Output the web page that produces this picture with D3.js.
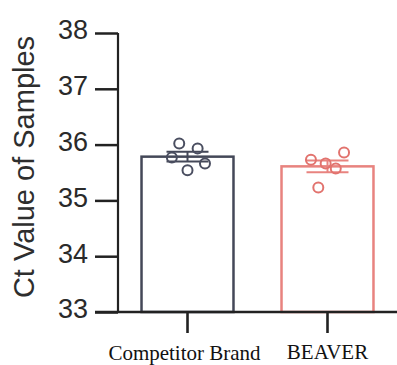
<!DOCTYPE html>
<html>
<head>
<meta charset="utf-8">
<script src="https://cdn.jsdelivr.net/npm/d3@7"></script>
<style>
  html, body { margin: 0; padding: 0; background: #fff; }
  svg { display: block; }
</style>
</head>
<body>
<svg id="chart" width="397" height="365"></svg>
<script>
// Groups and their individual Ct measurements
const categories = ["Competitor Brand", "BEAVER"];
const competitorValues = [36.02, 35.93, 35.77, 35.66, 35.54];
const beaverValues = [35.73, 35.86, 35.57, 35.66, 35.23];
const yTicks = [33, 34, 35, 36, 37, 38];
const yLabel = "Ct Value of Samples";

// Per-sample horizontal offsets (jitter) within each bar, in bar-width fractions
const competitorJitter = [-0.09, 0.11, -0.17, 0.19, 0.0];
const beaverJitter = [-0.18, 0.18, 0.09, -0.02, -0.1];

const strokeColors = ["#444858", "#e8837f"];
const pointColors = ["#4a4e60", "#e2736e"];

const groups = categories.map((c, i) => {
  const vals = i === 0 ? competitorValues : beaverValues;
  const mean = d3.mean(vals);
  const sem = d3.deviation(vals) / Math.sqrt(vals.length);
  return { name: c, values: vals, jitter: i === 0 ? competitorJitter : beaverJitter, mean, sem, i };
});

const svg = d3.select("#chart");
const axisX = 118, baseY = 312, topY = 33, rightX = 397;

const y = d3.scaleLinear().domain([33, 38]).range([baseY, topY]);
const x = d3.scaleBand().domain(categories).range([axisX, rightX])
  .paddingInner(0.343).paddingOuter(0.168);

// Bars (open, outlined)
svg.selectAll("rect.bar").data(groups).enter().append("rect")
  .attr("class", "bar")
  .attr("x", d => x(d.name))
  .attr("width", x.bandwidth())
  .attr("y", d => y(d.mean))
  .attr("height", d => baseY - y(d.mean))
  .attr("fill", "#fff")
  .attr("stroke", d => strokeColors[d.i])
  .attr("stroke-width", 2.5);

// Mean ± SEM error bars
const capHalf = 21;
groups.forEach(d => {
  const cx = x(d.name) + x.bandwidth() / 2;
  const g = svg.append("g").attr("stroke", strokeColors[d.i]).attr("stroke-width", 2);
  g.append("line").attr("x1", cx).attr("x2", cx)
    .attr("y1", y(d.mean + d.sem)).attr("y2", y(d.mean - d.sem));
  [d.mean + d.sem, d.mean - d.sem].forEach(v => {
    g.append("line").attr("x1", cx - capHalf).attr("x2", cx + capHalf)
      .attr("y1", y(v)).attr("y2", y(v));
  });
});

// Individual sample points
groups.forEach(d => {
  const cx = x(d.name) + x.bandwidth() / 2;
  svg.selectAll(null).data(d.values).enter().append("circle")
    .attr("cx", (v, k) => cx + d.jitter[k] * x.bandwidth())
    .attr("cy", v => y(v))
    .attr("r", 5)
    .attr("fill", "none")
    .attr("stroke", pointColors[d.i])
    .attr("stroke-width", 2);
});

// Y axis
const yAxis = d3.axisLeft(y).tickValues(yTicks).tickSize(23).tickPadding(7)
  .tickFormat(d3.format("d"));
const gy = svg.append("g").attr("transform", `translate(${axisX},0)`).call(yAxis);
gy.select(".domain").attr("stroke", "#222").attr("stroke-width", 2.2)
  .attr("d", `M0,${topY}V${baseY}`);
gy.selectAll(".tick line").attr("stroke", "#222").attr("stroke-width", 2.5);
gy.selectAll(".tick text")
  .attr("font-family", "Liberation Sans, Arial, sans-serif")
  .attr("font-size", 27)
  .attr("fill", "#2a2a2a")
  .attr("dy", "0.22em");

// X axis baseline and ticks
svg.append("line").attr("x1", 95).attr("x2", rightX)
  .attr("y1", baseY).attr("y2", baseY)
  .attr("stroke", "#222").attr("stroke-width", 2.6);
svg.selectAll("line.xtick").data(categories).enter().append("line")
  .attr("class", "xtick")
  .attr("x1", d => x(d) + x.bandwidth() / 2)
  .attr("x2", d => x(d) + x.bandwidth() / 2)
  .attr("y1", baseY).attr("y2", baseY + 21)
  .attr("stroke", "#222").attr("stroke-width", 2.6);

// Category labels
svg.selectAll("text.xlab").data(categories).enter().append("text")
  .attr("class", "xlab")
  .attr("x", d => x(d) + x.bandwidth() / 2 - (d === "BEAVER" ? 0 : 3))
  .attr("y", d => d === "BEAVER" ? 359 : 360)
  .attr("text-anchor", "middle")
  .attr("font-family", "Liberation Serif, Times New Roman, serif")
  .attr("font-size", 21)
  .attr("fill", "#111")
  .text(d => d);

// Y axis title
svg.append("text")
  .attr("transform", "translate(34,167) rotate(-90)")
  .attr("text-anchor", "middle")
  .attr("font-family", "Liberation Sans, Arial, sans-serif")
  .attr("font-size", 29)
  .attr("fill", "#2e2e2e")
  .text(yLabel);
</script>
</body>
</html>
